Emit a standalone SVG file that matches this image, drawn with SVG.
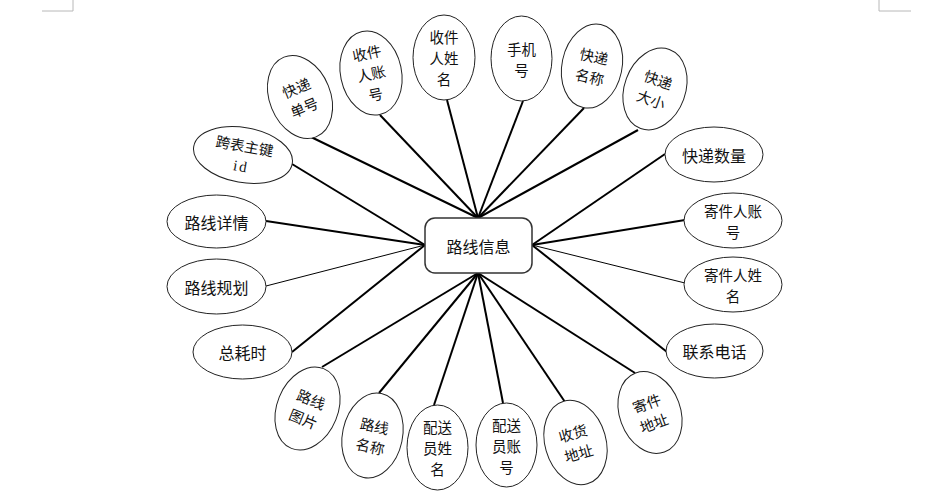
<svg xmlns="http://www.w3.org/2000/svg" width="949" height="503" viewBox="0 0 949 503">
<style>
.bg{fill:#ffffff}
.corner{fill:none;stroke:#b8b8b8;stroke-width:1}
.e{fill:#ffffff;stroke:#222222;stroke-width:1}
.box{fill:#ffffff;stroke:#333333;stroke-width:1.5}
.t{font-family:"Noto Sans CJK SC","Noto Sans",sans-serif;font-size:16px;fill:#111111;text-anchor:middle;dominant-baseline:central}
.m{font-family:"Noto Sans CJK SC","Noto Sans",sans-serif;font-size:14.5px;fill:#111111;text-anchor:middle;dominant-baseline:central}
.s{font-family:"Liberation Serif",serif;font-size:15px;fill:#111111;text-anchor:middle;dominant-baseline:central;letter-spacing:2px}
.c{stroke:#000000;stroke-width:2;fill:none}
.thin{stroke:#000000;stroke-width:1;fill:none}
</style>
<rect class="bg" x="0" y="0" width="949" height="503"/>
<polyline class="corner" points="42,11 73,11 73,0"/>
<polyline class="corner" points="879,0 879,11 911,11"/>

<g id="connectors">
<line class="c" x1="478" y1="218" x2="311" y2="137"/>
<line class="c" x1="478" y1="218" x2="380" y2="115"/>
<line class="c" x1="478" y1="218" x2="447" y2="100"/>
<line class="c" x1="478" y1="218" x2="523" y2="101"/>
<line class="c" x1="478" y1="218" x2="584" y2="108"/>
<line class="c" x1="478" y1="218" x2="638" y2="130"/>
<line class="c" x1="425" y1="245" x2="292" y2="164"/>
<line class="c" x1="425" y1="245" x2="266" y2="221"/>
<line class="thin" x1="425" y1="245" x2="266" y2="286"/>
<line class="c" x1="425" y1="245" x2="292" y2="352"/>
<line class="c" x1="532" y1="245" x2="665" y2="154"/>
<line class="c" x1="532" y1="245" x2="685" y2="220"/>
<line class="thin" x1="532" y1="245" x2="685" y2="283"/>
<line class="c" x1="532" y1="245" x2="667" y2="352"/>
<line class="c" x1="478" y1="273" x2="322" y2="367"/>
<line class="c" x1="478" y1="273" x2="379" y2="393"/>
<line class="c" x1="478" y1="273" x2="434" y2="405"/>
<line class="c" x1="478" y1="273" x2="503" y2="403"/>
<line class="c" x1="478" y1="273" x2="565" y2="402"/>
<line class="c" x1="478" y1="273" x2="635" y2="373"/>
</g>

<g id="center">
<rect class="box" x="425" y="218" width="107" height="55" rx="10" ry="10"/>
<text class="t" x="478.5" y="245.5">路线信息</text>
</g>

<g id="kuaidi-danhao" transform="translate(300,97) rotate(-22)">
<ellipse class="e" cx="0" cy="0" rx="30.5" ry="43"/>
<text class="m" x="0" y="-10.5">快递</text>
<text class="m" x="0" y="10.5">单号</text>
</g>

<g id="shoujianren-zhanghao" transform="translate(371,73) rotate(-12)">
<ellipse class="e" cx="0" cy="0" rx="30.5" ry="42.5"/>
<text class="m" x="0" y="-21">收件</text>
<text class="m" x="0" y="0">人账</text>
<text class="m" x="0" y="21">号</text>
</g>

<g id="shoujianren-xingming" transform="translate(444,57.5)">
<ellipse class="e" cx="0" cy="0" rx="31" ry="42.5"/>
<text class="m" x="0" y="-21">收件</text>
<text class="m" x="0" y="0">人姓</text>
<text class="m" x="0" y="21">名</text>
</g>

<g id="shoujihao" transform="translate(521.5,58.5)">
<ellipse class="e" cx="0" cy="0" rx="30.5" ry="42.5"/>
<text class="m" x="0" y="-10.5">手机</text>
<text class="m" x="0" y="10.5">号</text>
</g>

<g id="kuaidi-mingcheng" transform="translate(592,66) rotate(12)">
<ellipse class="e" cx="0" cy="0" rx="30" ry="42.5"/>
<text class="m" x="0" y="-10.5">快递</text>
<text class="m" x="0" y="10.5">名称</text>
</g>

<g id="kuaidi-daxiao" transform="translate(655,89) rotate(20)">
<ellipse class="e" cx="0" cy="0" rx="30.5" ry="42"/>
<text class="m" x="0" y="-10.5">快递</text>
<text class="m" x="0" y="10.5">大小</text>
</g>

<g id="kuabiao-zhujian" transform="translate(243,155) rotate(10)">
<ellipse class="e" cx="0" cy="0" rx="50" ry="27.5"/>
<text class="m" x="0" y="-10">跨表主键</text>
<text class="s" x="0" y="11.5">id</text>
</g>

<g id="luxian-xiangqing">
<ellipse class="e" cx="216.5" cy="221.5" rx="49.5" ry="26.5"/>
<text class="t" x="216.5" y="221.5">路线详情</text>
</g>

<g id="luxian-guihua">
<ellipse class="e" cx="216.5" cy="286.5" rx="49.5" ry="27.5"/>
<text class="t" x="216.5" y="286.5">路线规划</text>
</g>

<g id="zonghaoshi">
<ellipse class="e" cx="242.5" cy="352" rx="49.5" ry="27"/>
<text class="t" x="242.5" y="352">总耗时</text>
</g>

<g id="kuaidi-shuliang">
<ellipse class="e" cx="714" cy="154.5" rx="49" ry="27.5"/>
<text class="t" x="714" y="154.5">快递数量</text>
</g>

<g id="jijianren-zhanghao">
<ellipse class="e" cx="733" cy="220.5" rx="49" ry="27.5"/>
<text class="m" x="733" y="210">寄件人账</text>
<text class="m" x="733" y="231">号</text>
</g>

<g id="jijianren-xingming">
<ellipse class="e" cx="733" cy="284.5" rx="49" ry="27.5"/>
<text class="m" x="733" y="274">寄件人姓</text>
<text class="m" x="733" y="295">名</text>
</g>

<g id="lianxi-dianhua">
<ellipse class="e" cx="714.5" cy="351" rx="48.5" ry="27"/>
<text class="t" x="714.5" y="351">联系电话</text>
</g>

<g id="jijian-dizhi" transform="translate(650,412.5) rotate(-20)">
<ellipse class="e" cx="0" cy="0" rx="30.5" ry="42"/>
<text class="m" x="0" y="-10.5">寄件</text>
<text class="m" x="0" y="10.5">地址</text>
</g>

<g id="shouhuo-dizhi" transform="translate(575.5,442.5) rotate(-16)">
<ellipse class="e" cx="0" cy="0" rx="30.5" ry="43"/>
<text class="m" x="0" y="-10.5">收货</text>
<text class="m" x="0" y="10.5">地址</text>
</g>

<g id="peisongyuan-zhanghao" transform="translate(506.5,445)">
<ellipse class="e" cx="0" cy="0" rx="30.5" ry="42"/>
<text class="m" x="0" y="-21">配送</text>
<text class="m" x="0" y="0">员账</text>
<text class="m" x="0" y="21">号</text>
</g>

<g id="peisongyuan-xingming" transform="translate(437.5,447.5)">
<ellipse class="e" cx="0" cy="0" rx="30.5" ry="42.5"/>
<text class="m" x="0" y="-21">配送</text>
<text class="m" x="0" y="0">员姓</text>
<text class="m" x="0" y="21">名</text>
</g>

<g id="luxian-mingcheng" transform="translate(372.5,435.5) rotate(12)">
<ellipse class="e" cx="0" cy="0" rx="30" ry="43"/>
<text class="m" x="0" y="-10.5">路线</text>
<text class="m" x="0" y="10.5">名称</text>
</g>

<g id="luxian-tupian" transform="translate(307.5,408.5) rotate(22)">
<ellipse class="e" cx="0" cy="0" rx="30.5" ry="43"/>
<text class="m" x="0" y="-10.5">路线</text>
<text class="m" x="0" y="10.5">图片</text>
</g>
</svg>
